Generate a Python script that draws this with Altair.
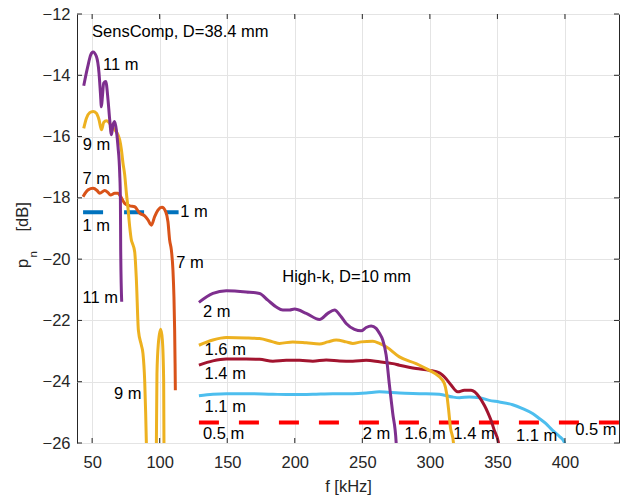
import altair as alt
import pandas as pd

# ---------------- SensComp, D=38.4 mm ----------------
f_s1 = [43.3, 114.0]
p_s1 = [-18.47, -18.47]

f_s7 = [43.27, 46.97, 50.67, 53.62, 55.62, 59.32, 61.76, 63.53, 66.71, 69.15, 71.15, 74.11,
        77.8, 81.5, 85.2, 88.9, 91.34, 93.85, 96.29, 98.73, 101.69, 104.43, 106.13, 107.38,
        108.64, 109.82, 110.56, 111.08, 111.4, 111.6]
p_s7 = [-17.96, -17.74, -17.69, -17.76, -17.85, -17.76, -17.83, -17.91, -17.85, -17.85, -17.96, -18.18,
        -18.26, -18.29, -18.5, -18.59, -18.72, -18.89, -18.61, -18.4, -18.31, -18.45, -18.78, -19.38,
        -19.7, -20.36, -21.23, -22.32, -23.41, -24.28]

f_s9 = [43.79, 45.78, 48.23, 50.67, 53.18, 55.1, 56.88, 58.58, 60.57, 62.5, 64.27, 66.71, 69.15,
        70.41, 71.67, 72.85, 74.11, 75.36, 76.55, 77.8, 79.06, 79.8, 81.5, 82.76, 84.24, 86.46,
        87.64, 88.9, 89.64, 90.15, 91.1, 94.1, 96.7, 97.55, 97.99, 99.03, 100.73, 101.99, 102.95,
        103.17, 103.7]
p_s9 = [-15.73, -15.40, -15.22, -15.18, -15.24, -15.45, -15.78, -15.54, -15.48, -15.54, -15.65, -15.78, -15.94,
        -16.11, -16.43, -16.87, -17.25, -17.85, -18.34, -18.94, -19.38, -19.48, -19.76, -20.68, -22.32, -22.81,
        -23.08, -23.96, -25.04, -26.02, -27.2, -27.5, -27.2, -26.02, -23.73, -22.75, -22.29, -22.64, -23.95,
        -26.02, -27.2]

f_s11 = [43.79, 46.75, 48.96, 50.67, 53.18, 55.1, 56.14, 56.88, 57.62, 58.58, 60.06, 61.76, 63.01,
         64.27, 65.46, 66.71, 67.97, 69.15, 70.41, 70.93, 71.15, 71.89]
p_s11 = [-14.34, -13.72, -13.33, -13.24, -13.39, -13.93, -14.58, -15.03, -14.69, -14.25, -14.2, -14.8, -15.45,
         -15.94, -15.62, -15.51, -15.8, -16.33, -17.2, -18.07, -19.7, -21.39]

# ---------------- High-k, D=10 mm ----------------
f_h05 = [129.05, 440.0]
p_h05 = [-25.33, -25.33]

f_h11 = [129.05, 139.4, 149.31, 164.1, 183.77, 198.56, 213.35, 228.14, 242.93, 252.84, 262.68, 277.44,
         292.23, 307.04, 316.87, 321.83, 329.22, 336.62, 344.01, 351.41, 361.25, 368.64, 376.04, 380.99,
         385.95, 390.83, 395.79, 399.49, 401.7]
p_h11 = [-24.46, -24.41, -24.39, -24.39, -24.41, -24.42, -24.41, -24.39, -24.39, -24.37, -24.33, -24.37,
         -24.39, -24.41, -24.5, -24.52, -24.5, -24.52, -24.61, -24.66, -24.75, -24.88, -25.04, -25.2,
         -25.37, -25.59, -25.78, -25.97, -26.9]

f_h14 = [129.05, 139.4, 149.31, 164.1, 173.94, 183.77, 193.68, 203.52, 213.35, 223.26, 233.09, 242.93,
         252.84, 262.68, 272.51, 277.44, 289.81, 299.64, 307.04, 311.99, 315.69, 320.57, 325.53, 330.48,
         336.62, 340.31, 342.76, 345.27, 347.71, 350.67, 351.78]
p_h14 = [-23.46, -23.32, -23.26, -23.26, -23.27, -23.33, -23.3, -23.3, -23.33, -23.29, -23.32, -23.33,
         -23.3, -23.35, -23.41, -23.46, -23.57, -23.63, -23.71, -23.9, -24.11, -24.33, -24.28, -24.28,
         -24.5, -24.77, -24.99, -25.26, -25.59, -25.97, -26.9]

f_h16 = [129.05, 139.4, 149.31, 164.1, 173.94, 183.77, 188.73, 198.56, 208.47, 218.3, 224.44, 230.65,
         238.05, 242.93, 249.14, 257.72, 262.68, 267.63, 277.44, 289.81, 299.64, 307.04, 310.74, 312.44,
         313.92, 315.18, 317.4, 318.5]
p_h16 = [-22.81, -22.64, -22.56, -22.57, -22.59, -22.7, -22.75, -22.7, -22.73, -22.77, -22.7, -22.64,
         -22.7, -22.75, -22.7, -22.68, -22.75, -22.86, -23.19, -23.41, -23.63, -23.84, -24.06, -24.39,
         -24.93, -25.48, -25.97, -26.9]

f_h20 = [129.05, 139.4, 149.31, 164.1, 173.94, 180.07, 186.29, 191.17, 196.12, 199.82, 208.47, 218.3,
         224.44, 229.39, 234.35, 238.05, 244.18, 249.14, 252.84, 256.54, 260.23, 262.68, 265.12, 267.63,
         270.07, 272.51, 275.02, 275.98]
p_h20 = [-21.41, -21.12, -21.03, -21.07, -21.12, -21.34, -21.56, -21.66, -21.66, -21.63, -21.77, -21.97,
         -21.77, -21.66, -21.88, -22.1, -22.29, -22.34, -22.23, -22.18, -22.26, -22.42, -22.64, -23.13,
         -24.11, -25.03, -25.97, -26.89]

# ---------------- annotations ----------------
lab_text = ["SensComp, D=38.4 mm", "11 m", "9 m", "7 m", "1 m", "1 m", "7 m", "11 m", "9 m",
            "High-k, D=10 mm", "2 m", "1.6 m", "1.4 m", "1.1 m", "0.5 m",
            "2 m", "1.6 m", "1.4 m", "1.1 m", "0.5 m"]
lab_f = [49.93, 58.06, 43.05, 42.83, 115.3, 42.83, 112.34, 42.83, 66.19,
         190.72, 132.0, 133.26, 133.26, 133.26, 132.0,
         250.3, 281.2, 317.4, 363.8, 407.6]
lab_p = [-12.59, -13.66, -16.27, -17.38, -18.47, -18.91, -20.14, -21.27, -24.39,
         -20.58, -21.72, -22.97, -23.75, -24.82, -25.69,
         -25.72, -25.69, -25.69, -25.78, -25.59]

x_ticks = [50, 100, 150, 200, 250, 300, 350, 400]
y_ticks = [-26, -24, -22, -20, -18, -16, -14, -12]

# y-axis title pieces: main symbol, subscript, unit
ytitle_main = "p"
ytitle_sub = "n"
ytitle_unit = "[dB]"

W, H = 542, 429
FONT = "Liberation Sans"
FS = 16.5
AXC = "#262626"

xs = alt.Scale(domain=[38.8, 440], nice=False, zero=False)
ys = alt.Scale(domain=[-26, -12], nice=False, zero=False)

x_enc = alt.X("f:Q", scale=xs, axis=alt.Axis(
    values=x_ticks, title="f [kHz]", ticks=False, tickSize=0, domain=False,
    labelFont=FONT, labelFontSize=FS, labelColor=AXC, labelPadding=11,
    titleFont=FONT, titleFontSize=FS, titleColor=AXC, titleFontWeight="normal",
    titleBaseline="middle", titleY=43,
    grid=True, gridColor="#e4e4e4", gridWidth=1))
y_enc = alt.Y("p:Q", scale=ys, axis=alt.Axis(
    values=y_ticks, title="", ticks=False, tickSize=0, domain=False,
    labelFont=FONT, labelFontSize=FS, labelColor=AXC, labelPadding=7,
    grid=True, gridColor="#e4e4e4", gridWidth=1))

def series(fs, ps):
    return pd.DataFrame({"f": fs, "p": ps})

layers = []

# grid/axes carrier layer (invisible)
layers.append(alt.Chart(series(x_ticks, y_ticks)).mark_point(opacity=0).encode(x=x_enc, y=y_enc))

# SensComp
layers.append(alt.Chart(series(f_s1, p_s1)).mark_line(color="#0072BD", strokeWidth=4, strokeDash=[20, 21], clip=True).encode(x=x_enc, y=y_enc))
for fs, ps, col in [(f_s7, p_s7, "#D95319"), (f_s9, p_s9, "#EDB120"), (f_s11, p_s11, "#7E2F8E")]:
    layers.append(alt.Chart(series(fs, ps)).mark_line(color=col, strokeWidth=3, clip=True, interpolate="monotone").encode(x=x_enc, y=y_enc))

# High-k
layers.append(alt.Chart(series(f_h05, p_h05)).mark_line(color="#FF0000", strokeWidth=4, strokeDash=[20, 20], clip=True).encode(x=x_enc, y=y_enc))
for fs, ps, col in [(f_h11, p_h11, "#4DBEEE"), (f_h14, p_h14, "#A2142F"), (f_h16, p_h16, "#EDB120"), (f_h20, p_h20, "#7E2F8E")]:
    layers.append(alt.Chart(series(fs, ps)).mark_line(color=col, strokeWidth=3, clip=True, interpolate="monotone").encode(x=x_enc, y=y_enc))

# labels
lab_df = pd.DataFrame({"f": lab_f, "p": lab_p, "t": lab_text})
layers.append(alt.Chart(lab_df).mark_text(align="left", baseline="middle", font=FONT, fontSize=FS, color="black").encode(x=x_enc, y=y_enc, text="t:N"))

# y title built from pieces (subscript n)
layers.append(alt.Chart(pd.DataFrame({"t": [ytitle_main]})).mark_text(
    align="left", baseline="alphabetic", angle=270, font=FONT, fontSize=FS, color=AXC
).encode(x=alt.value(27.5 - 77), y=alt.value(268 - 14), text="t:N"))
layers.append(alt.Chart(pd.DataFrame({"t": [ytitle_sub]})).mark_text(
    align="left", baseline="alphabetic", angle=270, font=FONT, fontSize=11.5, color=AXC
).encode(x=alt.value(36.5 - 77), y=alt.value(257.5 - 14), text="t:N"))
layers.append(alt.Chart(pd.DataFrame({"t": [ytitle_unit]})).mark_text(
    align="left", baseline="alphabetic", angle=270, font=FONT, fontSize=FS, color=AXC
).encode(x=alt.value(27.5 - 77), y=alt.value(231.5 - 14), text="t:N"))

# inward ticks on all four sides
xt_df = pd.DataFrame({"f": x_ticks})
yt_df = pd.DataFrame({"p": y_ticks})
layers.append(alt.Chart(xt_df).mark_rule(color=AXC, strokeWidth=1).encode(x=x_enc, y=alt.value(0), y2=alt.value(5)))
layers.append(alt.Chart(xt_df).mark_rule(color=AXC, strokeWidth=1).encode(x=x_enc, y=alt.value(H - 5), y2=alt.value(H)))
layers.append(alt.Chart(yt_df).mark_rule(color=AXC, strokeWidth=1).encode(y=y_enc, x=alt.value(0), x2=alt.value(5)))
layers.append(alt.Chart(yt_df).mark_rule(color=AXC, strokeWidth=1).encode(y=y_enc, x=alt.value(W - 5), x2=alt.value(W)))

chart = alt.layer(*layers).properties(
    width=W, height=H,
    autosize=alt.AutoSizeParams(type="none"),
    padding={"left": 77, "top": 14, "right": 9, "bottom": 54},
    background="white",
).configure_view(stroke=AXC, strokeWidth=1)

chart.save("out.html", embed_options={"renderer": "svg", "actions": False})
